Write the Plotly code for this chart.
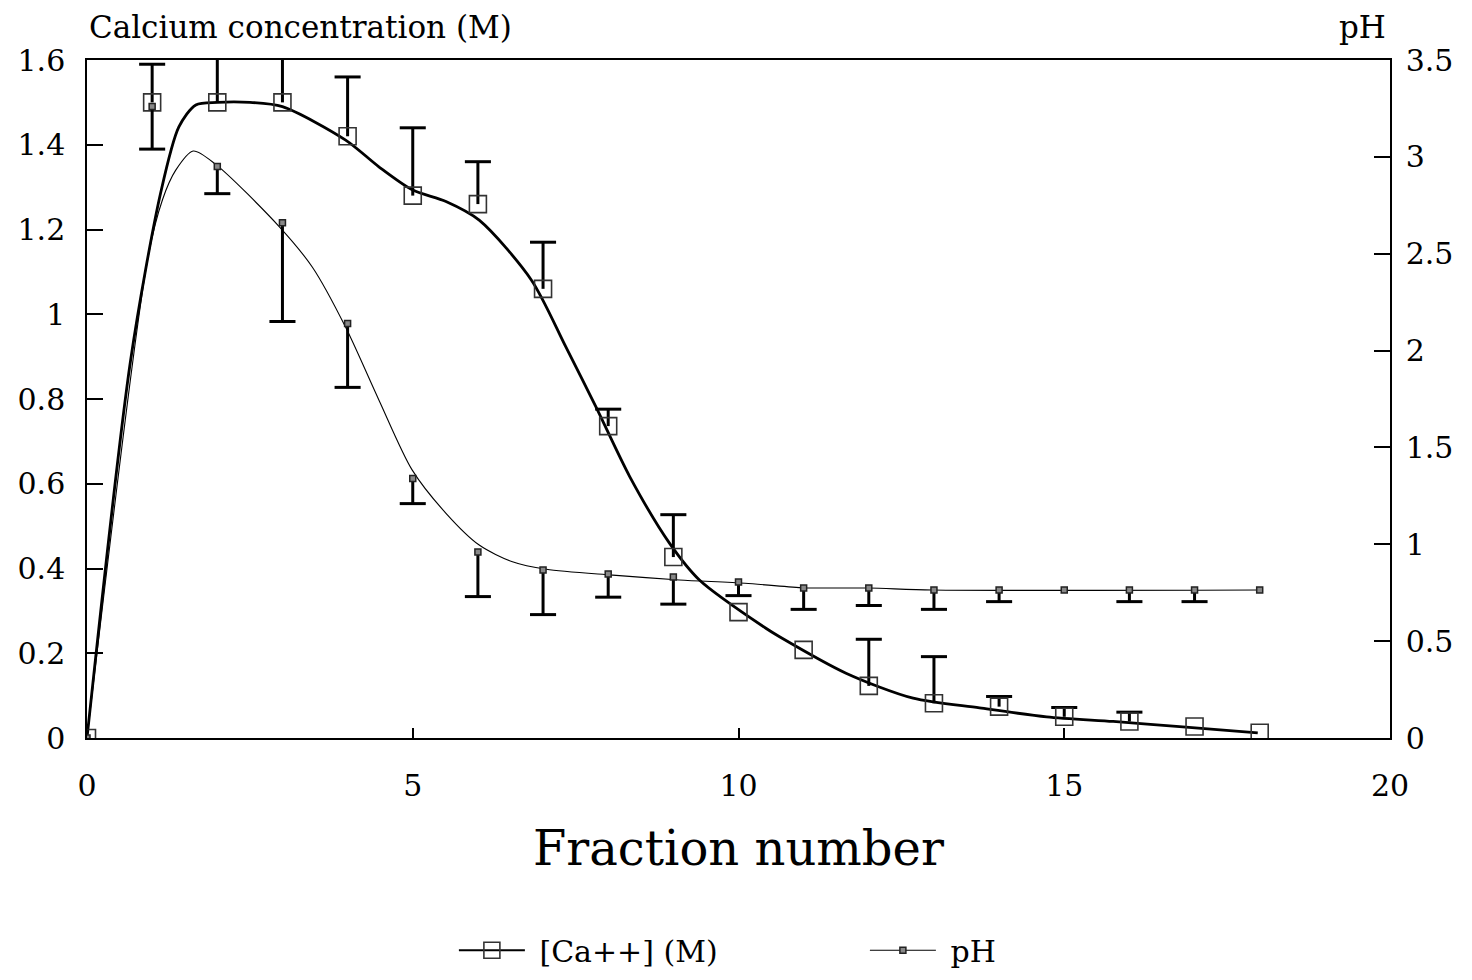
import plotly.graph_objects as go

# Fraction numbers and measured values
fraction = list(range(0, 19))
calcium = [0, 1.50, 1.50, 1.50, 1.42, 1.28, 1.26, 1.06, 0.736, 0.427, 0.297,
           0.208, 0.123, 0.082, 0.074, 0.050, 0.039, 0.027, 0.0125]
calcium_err = [0, 0.09, 0.12, 0.12, 0.14, 0.16, 0.10, 0.11, 0.04, 0.10, 0,
               0, 0.11, 0.11, 0.024, 0.022, 0.022, 0, 0]
ph = [0, 3.26, 2.95, 2.66, 2.14, 1.34, 0.96, 0.867, 0.847, 0.831, 0.805,
      0.774, 0.774, 0.764, 0.764, 0.764, 0.764, 0.764, 0.764]
ph_err = [0, 0.22, 0.14, 0.51, 0.33, 0.13, 0.23, 0.23, 0.12, 0.14, 0.07,
          0.11, 0.09, 0.10, 0.06, 0, 0.06, 0.06, 0]

# Smoothed trend curves (knots)
ca_fit_x = [0, 0.67, 1.13, 1.41, 1.67, 2.0, 2.5, 3.0, 3.97, 4.48, 5.0, 5.51, 6.02,
            6.82, 7.35, 7.81, 8.33, 8.94, 9.40, 10.42, 10.63, 11.65, 12.68, 13.7,
            14.73, 15.75, 16.77, 17.97]
ca_fit_y = [0, 0.892, 1.286, 1.442, 1.494, 1.50, 1.50, 1.49, 1.411, 1.348, 1.293,
            1.266, 1.222, 1.081, 0.923, 0.782, 0.617, 0.460, 0.373, 0.259, 0.239,
            0.153, 0.094, 0.071, 0.050, 0.039, 0.027, 0.012]
ph_fit_x = [0, 0.93, 1.16, 1.36, 1.63, 1.98, 2.95, 3.46, 3.97, 4.48, 4.99, 5.51,
            6.02, 6.53, 7.05, 8.07, 9.09, 10.1, 10.97, 12.0, 12.97, 18.0]
ph_fit_y = [0, 2.47, 2.78, 2.93, 3.03, 2.96, 2.64, 2.43, 2.12, 1.745, 1.384, 1.16,
            0.996, 0.91, 0.871, 0.841, 0.816, 0.799, 0.776, 0.774, 0.764, 0.764]

left_ticks = [0, 0.2, 0.4, 0.6, 0.8, 1.0, 1.2, 1.4, 1.6]
left_labels = ["0", "0.2", "0.4", "0.6", "0.8", "1", "1.2", "1.4", "1.6"]
right_ticks = [0, 0.5, 1.0, 1.5, 2.0, 2.5, 3.0, 3.5]
right_labels = ["0", "0.5", "1", "1.5", "2", "2.5", "3", "3.5"]
x_ticks = [0, 5, 10, 15, 20]

FONT = "DejaVu Serif"
CAP = 0.2  # half cap width in fraction units


def bar_segments(xs, vals, errs, sign):
    bx, by = [], []
    for x, v, e in zip(xs, vals, errs):
        if e <= 0:
            continue
        end = v + sign * e
        bx += [x, x, None, x - CAP, x + CAP, None]
        by += [v, end, None, end, end, None]
    return bx, by


fig = go.Figure()

# trend curves
fig.add_trace(go.Scatter(x=ca_fit_x, y=ca_fit_y, mode="lines",
                         line=dict(color="black", width=2.8, shape="spline", smoothing=0.8),
                         showlegend=False, hoverinfo="skip"))
fig.add_trace(go.Scatter(x=ph_fit_x, y=ph_fit_y, mode="lines", yaxis="y2",
                         line=dict(color="black", width=1.1, shape="spline", smoothing=0.8),
                         showlegend=False, hoverinfo="skip"))

# one-sided error bars
cbx, cby = bar_segments(fraction, calcium, calcium_err, +1)
fig.add_trace(go.Scatter(x=cbx, y=cby, mode="lines", line=dict(color="black", width=3),
                         showlegend=False, hoverinfo="skip"))
pbx, pby = bar_segments(fraction, ph, ph_err, -1)
fig.add_trace(go.Scatter(x=pbx, y=pby, mode="lines", yaxis="y2",
                         line=dict(color="black", width=3),
                         showlegend=False, hoverinfo="skip"))

# markers
ca_marker = dict(symbol="square-open", size=17, color="#333333", line=dict(width=1.6, color="#333333"))
ph_marker = dict(symbol="square", size=6, color="#888888", line=dict(width=1.5, color="#222222"))
fig.add_trace(go.Scatter(x=fraction, y=calcium, mode="markers", marker=ca_marker,
                         showlegend=False))
fig.add_trace(go.Scatter(x=fraction, y=ph, mode="markers", yaxis="y2", marker=ph_marker,
                         showlegend=False))

# legend entries
fig.add_trace(go.Scatter(x=[None], y=[None], mode="lines+markers", name=" [Ca++] (M)",
                         line=dict(color="black", width=2), marker=ca_marker))
fig.add_trace(go.Scatter(x=[None], y=[None], mode="lines+markers", name=" pH", yaxis="y2",
                         line=dict(color="black", width=1.1), marker=ph_marker))

axis_common = dict(showgrid=False, zeroline=False, showline=True, linecolor="black",
                   linewidth=1.5, ticks="inside", tickcolor="black", tickwidth=1.5,
                   automargin=False,
                   tickfont=dict(family=FONT, size=30, color="black"))

fig.update_layout(
    width=1472, height=980,
    margin=dict(l=87, r=82, t=60, b=242, autoexpand=False),
    paper_bgcolor="white", plot_bgcolor="white",
    font=dict(family=FONT, color="black"),
    xaxis=dict(range=[0, 20], tickvals=x_ticks, ticklen=10, mirror=True,
               ticklabelstandoff=20, **axis_common),
    yaxis=dict(range=[0, 1.6], tickvals=left_ticks, ticktext=left_labels, ticklen=16,
               ticklabelstandoff=14, **axis_common),
    yaxis2=dict(range=[0, 3.5], tickvals=right_ticks, ticktext=right_labels, ticklen=16,
                overlaying="y", side="right", ticklabelstandoff=8, **axis_common),
    legend=dict(orientation="h", x=0.597, xanchor="center", y=-0.313, yanchor="middle",
                font=dict(family=FONT, size=30, color="black"), itemwidth=66,
                entrywidth=330, bgcolor="rgba(0,0,0,0)"),
    annotations=[
        dict(text="Calcium concentration (M)", xref="paper", yref="paper", x=0.0, y=1.049,
             xanchor="left", yanchor="middle", showarrow=False,
             font=dict(family=FONT, size=31, color="black")),
        dict(text="pH", xref="paper", yref="paper", x=0.9985, y=1.049,
             xanchor="right", yanchor="middle", showarrow=False,
             font=dict(family=FONT, size=31, color="black")),
        dict(text="Fraction number", xref="paper", yref="paper", x=0.5, y=-0.162,
             xanchor="center", yanchor="middle", showarrow=False,
             font=dict(family=FONT, size=48, color="black")),
    ],
)

fig.write_html("out.html")
